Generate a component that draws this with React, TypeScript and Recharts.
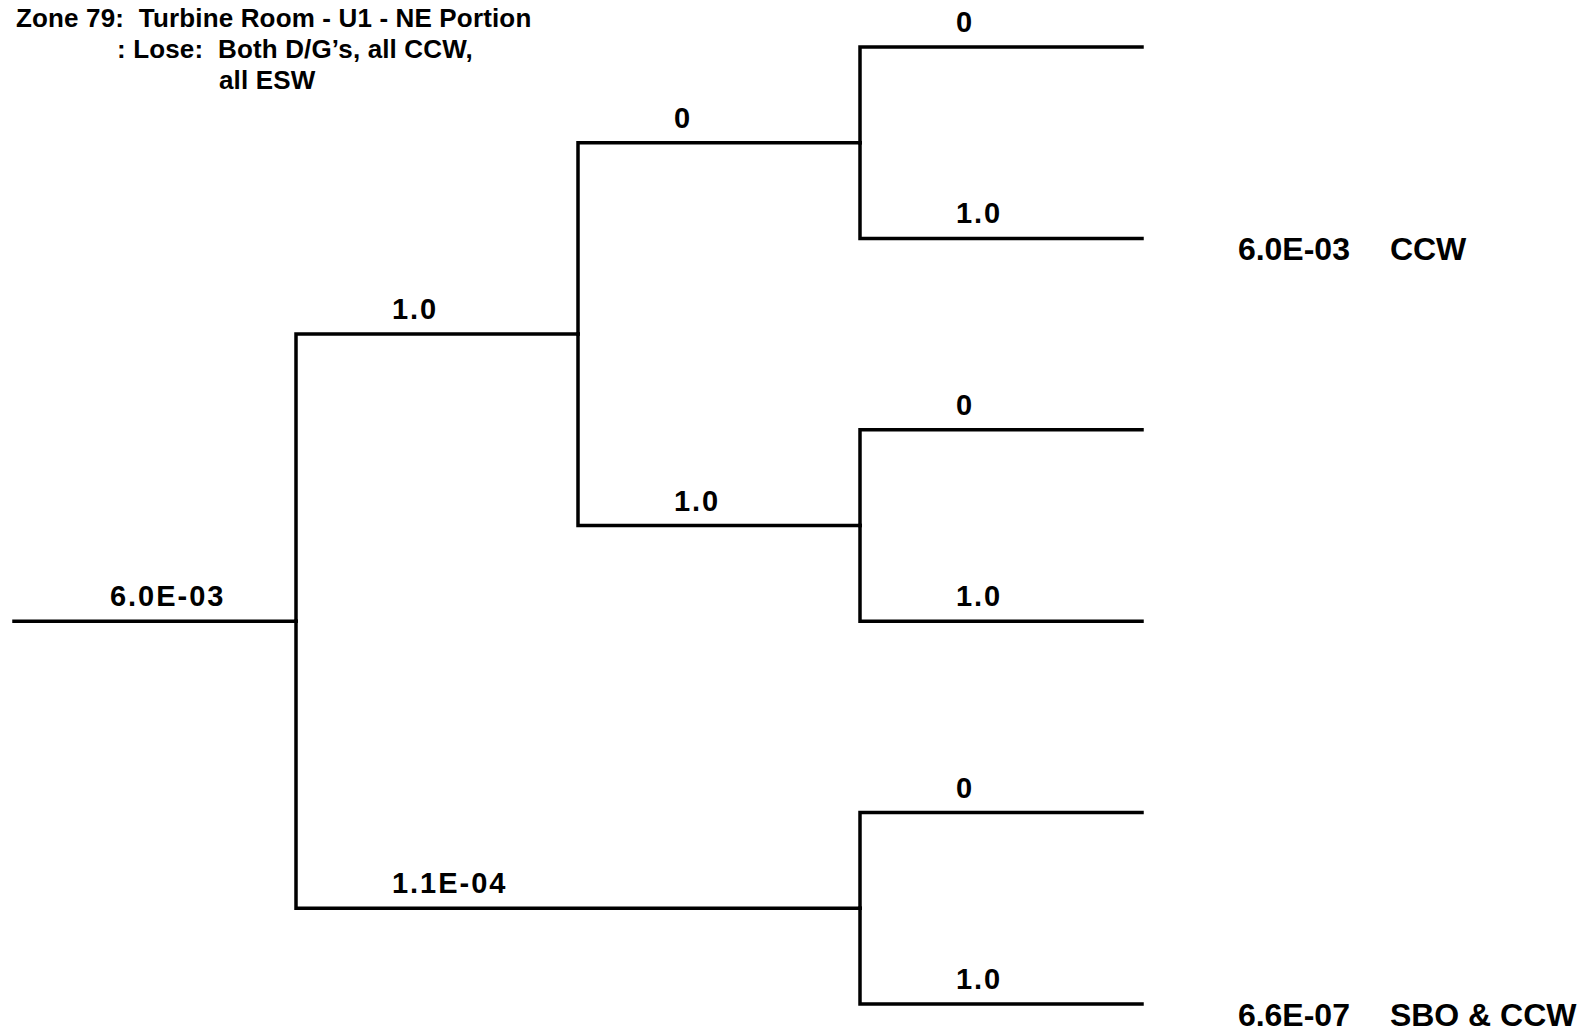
import { ComposedChart, Line, Scatter, XAxis, YAxis } from 'recharts';

// event tree: one entry per branch
const branchProb = ['6.0E-03', '1.0', '1.1E-04', '0', '1.0', '0', '1.0', '0', '1.0', '0', '1.0'];
const branchParent = [-1, 0, 0, 1, 1, 3, 3, 4, 4, 2, 2];
const branchFromCol = [0, 1, 1, 2, 2, 3, 3, 3, 3, 3, 3];
const branchToCol = [1, 2, 3, 3, 3, 4, 4, 4, 4, 4, 4];
const branchRow = [3, 1.5, 4.5, 0.5, 2.5, 0, 1, 2, 3, 4, 5];

// end states
const outcomeRow = [1, 5];
const outcomeFreq = ['6.0E-03', '6.6E-07'];
const outcomeName = ['CCW', 'SBO & CCW'];

const titleLines = ['Zone 79:  Turbine Room - U1 - NE Portion', ': Lose:  Both D/G\u2019s, all CCW,', 'all ESW'];

const W = 1582;
const H = 1033;
const X0 = 14;
const COL = 282;
const Y0 = 47;
const ROW = 191.4;
const LABEL_OFFSET = 0.34;
const OUTCOME_COL = 4.34;
const FONT = '"Liberation Sans", Arial, Helvetica, sans-serif';

const branchPaths = branchProb.map((_, i) => {
  const p = branchParent[i];
  const startRow = p >= 0 ? branchRow[p] : branchRow[i];
  return [
    { x: branchFromCol[i], y: startRow },
    { x: branchFromCol[i], y: branchRow[i] },
    { x: branchToCol[i], y: branchRow[i] },
  ];
});

const labelPoints = branchProb.map((label, i) => ({
  x: branchFromCol[i] + LABEL_OFFSET,
  y: branchRow[i],
  label,
}));

const outcomePoints = outcomeRow.map((r, i) => ({
  x: OUTCOME_COL,
  y: r,
  freq: outcomeFreq[i],
  name: outcomeName[i],
}));

const BranchLabel = (props: any) => {
  const { cx, cy, payload } = props;
  return (
    <text x={cx} y={cy - 15} fontFamily={FONT} fontWeight="bold" fontSize={29} letterSpacing={2} fill="#000">
      {payload.label}
    </text>
  );
};

const OutcomeLabel = (props: any) => {
  const { cx, cy, payload } = props;
  return (
    <g>
      <text x={cx} y={cy + 22} fontFamily={FONT} fontWeight="bold" fontSize={32} fill="#000">
        {payload.freq}
      </text>
      <text x={cx + 152} y={cy + 22} fontFamily={FONT} fontWeight="bold" fontSize={32} fill="#000">
        {payload.name}
      </text>
    </g>
  );
};

const titleStyle = (left: number, top: number): React.CSSProperties => ({
  position: 'absolute',
  left,
  top,
  fontFamily: FONT,
  fontWeight: 'bold',
  fontSize: 26,
  lineHeight: '26px',
  letterSpacing: 0.15,
  whiteSpace: 'pre',
  color: '#000',
});

const App = () => {
  return (
    <div style={{ position: 'absolute', left: 0, top: 0, width: W, height: H, background: '#fff' }}>
      <ComposedChart width={W} height={H} margin={{ top: 0, right: 0, bottom: 0, left: 0 }}>
        <XAxis
          type="number"
          dataKey="x"
          hide
          allowDataOverflow
          domain={[-X0 / COL, (W - X0) / COL]}
        />
        <YAxis
          type="number"
          dataKey="y"
          hide
          reversed
          allowDataOverflow
          domain={[-Y0 / ROW, (H - Y0) / ROW]}
        />
        {branchPaths.map((path, i) => (
          <Line
            key={`b${i}`}
            data={path}
            dataKey="y"
            type="linear"
            stroke="#000"
            strokeWidth={3.5}
            strokeLinecap="square"
            strokeLinejoin="miter"
            dot={false}
            activeDot={false}
            isAnimationActive={false}
          />
        ))}
        <Scatter data={labelPoints} dataKey="y" shape={BranchLabel} isAnimationActive={false} />
        <Scatter data={outcomePoints} dataKey="y" shape={OutcomeLabel} isAnimationActive={false} />
      </ComposedChart>
      <div style={titleStyle(16, 5)}>{titleLines[0]}</div>
      <div style={titleStyle(117, 36)}>{titleLines[1]}</div>
      <div style={titleStyle(219, 67)}>{titleLines[2]}</div>
    </div>
  );
};

export default App;
